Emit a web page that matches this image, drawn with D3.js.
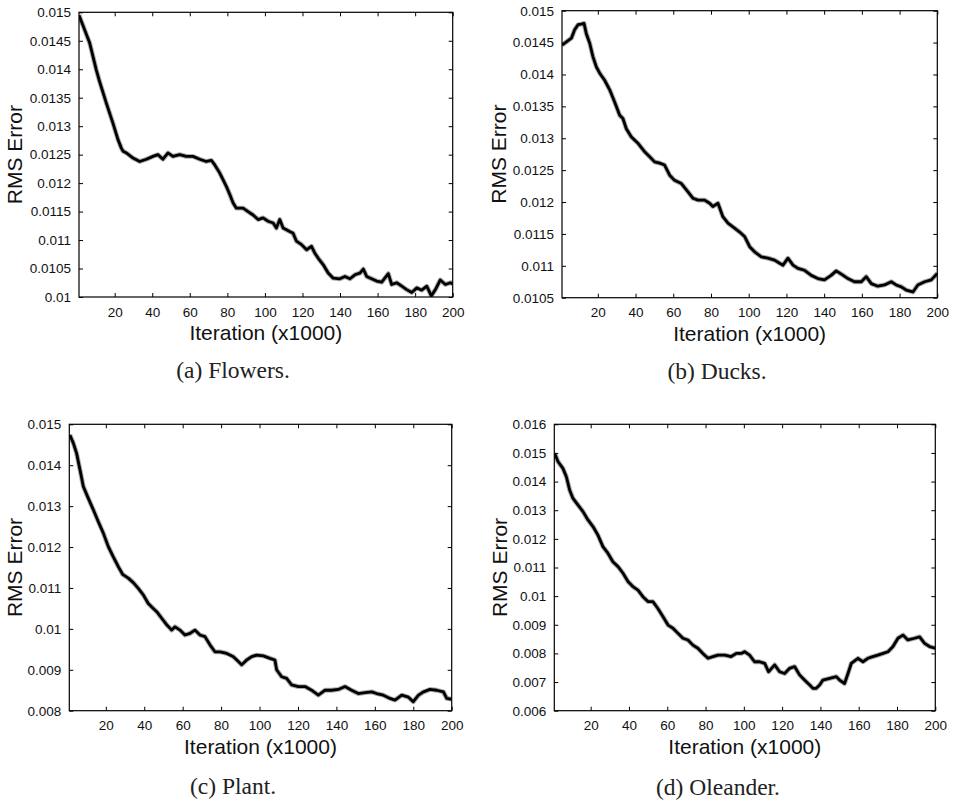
<!DOCTYPE html>
<html>
<head>
<meta charset="utf-8">
<script src="https://cdn.jsdelivr.net/npm/d3@7"></script>
<style>
  html, body { margin: 0; padding: 0; background: #fff; }
  svg { display: block; }
</style>
</head>
<body>
<svg id="fig" width="957" height="804"></svg>
<script>
// ---- Training curves: RMS error vs. iteration (thousands) ----

const xTicks = [20, 40, 60, 80, 100, 120, 140, 160, 180, 200];
const xLabel = "Iteration (x1000)";
const yLabel = "RMS Error";

// (a) Flowers
const flowersIter = [1, 6.7, 10.2, 12, 15.6, 19.1, 21.8, 23.6, 24.5, 26.2, 29.8, 33.3, 36.9, 40.4, 43, 45.7, 48.4, 51, 54.6, 58.1, 61.7, 65.3, 68.8, 71.5, 73.3, 75.9, 77.7, 79.5, 81.3, 83.1, 84.8, 88.4, 91, 93.7, 96.4, 99, 101.7, 104.4, 106.1, 107.9, 109.7, 111.5, 113.2, 115, 116.8, 119.5, 122.2, 124.8, 126.6, 128.4, 131, 133.7, 136.4, 139.9, 142.6, 145.3, 147.9, 150.6, 152.4, 154.2, 156.8, 159.5, 162.2, 165.7, 167.5, 170.2, 172.9, 175.5, 178.2, 180.9, 183.5, 186.2, 188.6, 190.8, 193.4, 196.1, 198.8, 200];
const flowersRms = [0.01495, 0.01446, 0.01399, 0.01378, 0.01340, 0.01305, 0.01276, 0.01261, 0.01256, 0.01253, 0.01244, 0.01238, 0.01242, 0.01247, 0.01250, 0.01242, 0.01253, 0.01247, 0.01250, 0.01247, 0.01247, 0.01242, 0.01238, 0.01240, 0.01232, 0.01218, 0.01206, 0.01194, 0.01180, 0.01165, 0.01156, 0.01156, 0.01150, 0.01144, 0.01136, 0.01139, 0.01133, 0.01130, 0.01121, 0.01136, 0.01121, 0.01118, 0.01115, 0.01112, 0.01098, 0.01092, 0.01083, 0.01089, 0.01077, 0.01068, 0.01057, 0.01042, 0.01033, 0.01032, 0.01036, 0.01032, 0.01039, 0.01042, 0.01049, 0.01036, 0.01032, 0.01028, 0.01026, 0.01041, 0.01022, 0.01025, 0.01019, 0.01013, 0.01008, 0.01016, 0.01012, 0.01019, 0.01002, 0.01013, 0.01030, 0.01022, 0.01025, 0.01023];
const flowersYTicks = [0.01, 0.0105, 0.011, 0.0115, 0.012, 0.0125, 0.013, 0.0135, 0.014, 0.0145, 0.015];

// (b) Ducks
const ducksIter = [1, 3.3, 6, 7.7, 9.5, 11.2, 12.7, 13.9, 15.7, 17.4, 19.2, 21, 23.6, 26.3, 28.9, 31.6, 33.3, 35.1, 37.8, 41.3, 44.8, 47.5, 50.1, 52.8, 55.4, 58.1, 60.7, 64.3, 67.8, 70.4, 73.1, 76.6, 79.3, 81, 83.7, 86.3, 89, 92.5, 95.2, 97.8, 100.5, 103.1, 106.7, 110.2, 113.7, 116.4, 118.2, 120.8, 123.5, 126.1, 129.6, 133.2, 136.7, 140.2, 143.7, 146.4, 149.1, 152.6, 156.1, 159.7, 162.3, 165, 168.5, 172, 175.6, 178.2, 180.9, 183.5, 187.1, 189.7, 193.3, 196.8, 200];
const ducksRms = [0.01446, 0.01451, 0.01457, 0.01470, 0.01478, 0.01479, 0.01480, 0.01464, 0.01449, 0.01428, 0.01412, 0.01402, 0.01391, 0.01376, 0.01357, 0.01336, 0.01331, 0.01315, 0.01302, 0.01292, 0.01279, 0.01271, 0.01263, 0.01261, 0.01258, 0.01242, 0.01234, 0.01229, 0.01216, 0.01206, 0.01203, 0.01203, 0.01198, 0.01193, 0.01198, 0.01177, 0.01167, 0.01159, 0.01153, 0.01146, 0.01130, 0.01122, 0.01114, 0.01112, 0.01109, 0.01104, 0.01101, 0.01112, 0.01101, 0.01096, 0.01093, 0.01085, 0.01080, 0.01078, 0.01085, 0.01092, 0.01087, 0.01080, 0.01075, 0.01075, 0.01083, 0.01072, 0.01068, 0.01070, 0.01075, 0.01070, 0.01067, 0.01062, 0.01059, 0.01070, 0.01075, 0.01078, 0.01088];
const ducksYTicks = [0.0105, 0.011, 0.0115, 0.012, 0.0125, 0.013, 0.0135, 0.014, 0.0145, 0.015];

// (c) Plant
const plantIter = [1.3, 3.1, 4.8, 6.6, 8.3, 10.9, 13.5, 16.1, 18.7, 21.3, 23.9, 26.5, 28.8, 31.7, 34.3, 36.9, 39.5, 42.1, 44.7, 46.5, 49.1, 51.7, 54.3, 56, 58.6, 61.2, 63.8, 66.4, 69, 71.6, 74.2, 76.8, 79.4, 82.9, 86.4, 89, 90.7, 93.3, 95.9, 98.5, 102, 105.4, 108, 108.9, 111.5, 114.1, 116.7, 120.2, 123.7, 127.1, 130.6, 134.1, 137.5, 141, 144.5, 147.9, 151.4, 154.9, 158.4, 160.9, 164.4, 167.9, 170.5, 174, 177.5, 180, 182.7, 185.3, 188.7, 192.2, 195.7, 197.4, 200];
const plantRms = [0.01474, 0.01454, 0.01429, 0.01388, 0.01348, 0.01319, 0.01291, 0.01262, 0.01234, 0.01201, 0.01176, 0.01152, 0.01133, 0.01124, 0.01113, 0.01099, 0.01083, 0.01062, 0.01050, 0.01042, 0.01026, 0.01010, 0.00997, 0.01005, 0.00997, 0.00985, 0.00989, 0.00997, 0.00985, 0.00981, 0.00961, 0.00944, 0.00944, 0.00940, 0.00932, 0.00920, 0.00912, 0.00924, 0.00932, 0.00936, 0.00934, 0.00928, 0.00924, 0.00900, 0.00883, 0.00879, 0.00863, 0.00859, 0.00859, 0.00850, 0.00838, 0.00850, 0.00850, 0.00852, 0.00859, 0.00850, 0.00842, 0.00844, 0.00846, 0.00842, 0.00838, 0.00830, 0.00826, 0.00838, 0.00833, 0.00822, 0.00838, 0.00846, 0.00852, 0.00850, 0.00846, 0.00830, 0.00828];
const plantYTicks = [0.008, 0.009, 0.01, 0.011, 0.012, 0.013, 0.014, 0.015];

// (d) Oleander
const oleanderIter = [1.2, 2.9, 5.5, 7.3, 9, 10.7, 13.4, 16, 18.6, 21.2, 23.8, 26.4, 29, 31.6, 34.3, 36.9, 39.5, 42.1, 44.7, 47.3, 49.9, 52.5, 55.1, 57.8, 60.4, 63, 65.6, 68.2, 70.8, 73.4, 76, 78.6, 81.3, 83.9, 86.5, 90, 93.4, 96.1, 98.7, 100.4, 103, 105.6, 108.2, 110.9, 112.9, 116.1, 118.7, 121.3, 123.9, 126.5, 129.1, 131.7, 134.4, 136.1, 137.8, 139.6, 141.3, 144.8, 148.3, 150, 152.6, 154.4, 156.1, 159.6, 162.2, 164.8, 167.4, 170, 172.7, 175.3, 177.9, 180.5, 183.1, 185.7, 189.2, 191.8, 194.4, 197, 200];
const oleanderRms = [0.01499, 0.01470, 0.01446, 0.01417, 0.01371, 0.01342, 0.01318, 0.01295, 0.01266, 0.01243, 0.01213, 0.01173, 0.01150, 0.01120, 0.01103, 0.01080, 0.01051, 0.01033, 0.01021, 0.00998, 0.00981, 0.00981, 0.00957, 0.00928, 0.00899, 0.00888, 0.00870, 0.00853, 0.00847, 0.00829, 0.00818, 0.00800, 0.00783, 0.00789, 0.00794, 0.00794, 0.00789, 0.00800, 0.00800, 0.00806, 0.00794, 0.00771, 0.00771, 0.00765, 0.00736, 0.00760, 0.00736, 0.00730, 0.00748, 0.00754, 0.00725, 0.00707, 0.00690, 0.00678, 0.00678, 0.00690, 0.00707, 0.00713, 0.00719, 0.00707, 0.00695, 0.00730, 0.00765, 0.00783, 0.00771, 0.00783, 0.00789, 0.00794, 0.00800, 0.00806, 0.00824, 0.00853, 0.00864, 0.00847, 0.00853, 0.00858, 0.00835, 0.00824, 0.00818];
const oleanderYTicks = [0.006, 0.007, 0.008, 0.009, 0.01, 0.011, 0.012, 0.013, 0.014, 0.015, 0.016];

const captions = ["(a) Flowers.", "(b) Ducks.", "(c) Plant.", "(d) Oleander."];

// ---- layout of the four panels ----
const panels = [
  { iter: flowersIter, rms: flowersRms, yTicks: flowersYTicks, caption: captions[0],
    left: 79, right: 452.7, top: 12.3, bottom: 297, yTitleX: 15, capX: 233, capY: 370 },
  { iter: ducksIter, rms: ducksRms, yTicks: ducksYTicks, caption: captions[1],
    left: 562, right: 937.3, top: 10.7, bottom: 297.7, yTitleX: 499, capX: 717, capY: 371 },
  { iter: plantIter, rms: plantRms, yTicks: plantYTicks, caption: captions[2],
    left: 69.3, right: 451.7, top: 424.3, bottom: 710.7, yTitleX: 15, capX: 233, capY: 786 },
  { iter: oleanderIter, rms: oleanderRms, yTicks: oleanderYTicks, caption: captions[3],
    left: 554.3, right: 935.3, top: 424.3, bottom: 710.7, yTitleX: 499.5, capX: 718, capY: 787 }
];

const svg = d3.select("#fig");
svg.append("rect").attr("width", 957).attr("height", 804).attr("fill", "#fff");

const sans = "'Liberation Sans', Arial, Helvetica, sans-serif";
const serif = "'Liberation Serif', 'Times New Roman', serif";
const fmtY = v => String(+v.toFixed(5));

panels.forEach((p, i) => {
  const yTicks = p.yTicks;
  const x = d3.scaleLinear().domain([1, 200]).range([p.left, p.right]);
  const y = d3.scaleLinear().domain([yTicks[0], yTicks[yTicks.length - 1]]).range([p.bottom, p.top]);
  const g = svg.append("g");

  const clipId = "clip" + i;
  svg.append("clipPath").attr("id", clipId)
    .append("rect")
    .attr("x", p.left).attr("y", p.top)
    .attr("width", p.right - p.left).attr("height", p.bottom - p.top);

  // axes with inward ticks on all four sides
  const styleAxis = sel => {
    sel.select(".domain").remove();
    sel.selectAll(".tick line").attr("stroke", "#000").attr("stroke-width", 1);
    sel.selectAll("text").attr("font-family", sans).attr("font-size", 13.5).attr("fill", "#111");
  };
  g.append("g").attr("transform", `translate(0,${p.bottom})`)
    .call(d3.axisBottom(x).tickValues(xTicks).tickSizeInner(-4).tickSizeOuter(0).tickPadding(10).tickFormat(d3.format("d")))
    .call(styleAxis);
  g.append("g").attr("transform", `translate(0,${p.top})`)
    .call(d3.axisTop(x).tickValues(xTicks).tickSizeInner(-4).tickSizeOuter(0).tickFormat(""))
    .call(styleAxis);
  g.append("g").attr("transform", `translate(${p.left},0)`)
    .call(d3.axisLeft(y).tickValues(yTicks).tickSizeInner(-4).tickSizeOuter(0).tickPadding(8).tickFormat(fmtY))
    .call(styleAxis);
  g.append("g").attr("transform", `translate(${p.right},0)`)
    .call(d3.axisRight(y).tickValues(yTicks).tickSizeInner(-4).tickSizeOuter(0).tickFormat(""))
    .call(styleAxis);

  // curve: soft grey halo under a heavy black trace
  const pts = p.iter.map((it, k) => [it, p.rms[k]]);
  const line = d3.line().x(d => x(d[0])).y(d => y(d[1]));
  const curves = g.append("g").attr("clip-path", `url(#${clipId})`);
  curves.append("path").datum(pts).attr("d", line)
    .attr("fill", "none").attr("stroke", "#666").attr("stroke-opacity", 0.55)
    .attr("stroke-width", 4.8).attr("stroke-linejoin", "round");
  curves.append("path").datum(pts).attr("d", line)
    .attr("fill", "none").attr("stroke", "#000")
    .attr("stroke-width", 2.8).attr("stroke-linejoin", "round");

  // frame
  g.append("rect")
    .attr("x", p.left).attr("y", p.top)
    .attr("width", p.right - p.left).attr("height", p.bottom - p.top)
    .attr("fill", "none").attr("stroke", "#000").attr("stroke-width", 1.2);

  // axis titles
  g.append("text")
    .attr("x", (p.left + p.right) / 2).attr("y", p.bottom + 36).attr("dy", "0.35em")
    .attr("text-anchor", "middle").attr("font-family", sans).attr("font-size", 21).attr("fill", "#111")
    .text(xLabel);
  g.append("text")
    .attr("transform", `translate(${p.yTitleX},${(p.top + p.bottom) / 2}) rotate(-90)`)
    .attr("dy", "0.35em")
    .attr("text-anchor", "middle").attr("font-family", sans).attr("font-size", 21).attr("fill", "#111")
    .text(yLabel);

  // caption
  g.append("text")
    .attr("x", p.capX).attr("y", p.capY).attr("dy", "0.35em")
    .attr("text-anchor", "middle").attr("font-family", serif).attr("font-size", 23.5).attr("fill", "#222")
    .text(p.caption);
});
</script>
</body>
</html>
